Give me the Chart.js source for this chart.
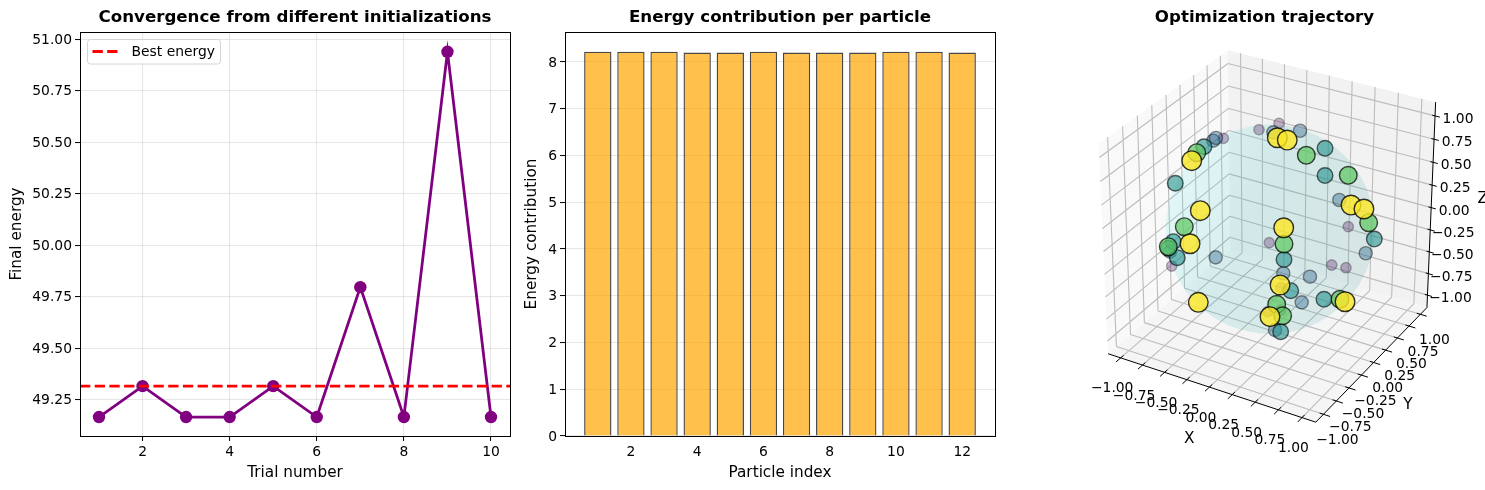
<!DOCTYPE html>
<html><head><meta charset="utf-8">
<style>html,body{margin:0;padding:0;background:#fff;width:1485px;height:490px;overflow:hidden}canvas{position:absolute;top:0}</style>
<script src="https://cdn.jsdelivr.net/npm/chart.js@4"></script>
</head><body>
<canvas id="c1" width="590" height="490" style="left:0"></canvas>
<canvas id="c2" width="520" height="490" style="left:520px"></canvas>
<canvas id="c3" width="441" height="490" style="left:1044px"></canvas>
<script>
// ---- panel 1
const trials = [1,2,3,4,5,6,7,8,9,10];
const finalEnergy = [49.166,49.316,49.166,49.166,49.316,49.166,49.797,49.166,50.94,49.166];
const bestEnergy = 49.316;
const trialTicks = [2,4,6,8,10];
const energyTicks = [49.25,49.5,49.75,50,50.25,50.5,50.75,51];
// ---- panel 2
const particles = [1,2,3,4,5,6,7,8,9,10,11,12];
const contribution = [8.22,8.22,8.22,8.2,8.2,8.22,8.2,8.2,8.2,8.22,8.22,8.2];
const particleTicks = [2,4,6,8,10,12];
const contributionTicks = [0,1,2,3,4,5,6,7,8];
// ---- panel 3: particle positions as seen in the view plane (unit sphere radius = 1);
// a flat picture does not give their depth, so [across, up] is what was read.
const step1 = [[.084,1.012],[-.107,.951],[-.448,.869],[.746,.024],[-.009,-.129],[-.941,-.352],[.588,-.342],[.724,-.368],[.103,-.559],[-.024,-.788],[.103,-.772]];
const step2 = [[-.544,.846],[-.518,.872],[-.958,-.215],[-.521,-.269],[.285,.941],[.03,.926],[.125,-.421],[.38,-.454],[.301,-.699],[.046,-.963],[.66,.279],[.913,-.23]];
const step3 = [[-.633,.788],[-.907,.439],[-.926,-.119],[-.972,-.184],[-.888,-.272],[.524,.773],[.524,.513],[.196,-.588],[.514,-.67],[.1,-.98],[.132,-.29],[.995,-.094]];
const step4 = [[-.702,.731],[.345,.706],[.746,.515],[-.821,.024],[.941,.062],[.132,-.141],[-.974,-.167],[.667,-.67],[.062,-.718],[.119,-.827]];
const step5 = [[-.75,.655],[.068,.874],[.163,.852],[-.668,.177],[-.766,-.139],[.129,.014],[.772,.231],[.896,.193],[.094,-.533],[-.687,-.699],[.715,-.693],[-.002,-.836]];
const axisTicks3d = [-1,-.75,-.5,-.25,0,.25,.5,.75,1];

const FONT = '"DejaVu Sans"';
const TICK = 13.89, LABEL = 15.28, TITLE = 16.67;
Chart.defaults.font.family = FONT;
Chart.defaults.color = '#000';
Chart.defaults.animation = false;

const frame = {id:'frame', afterDraw(c){const a=c.chartArea,x=c.ctx;x.save();x.strokeStyle='#000';x.lineWidth=1;
  x.strokeRect(Math.round(a.left)+.5,Math.round(a.top)+.5,Math.round(a.width),Math.round(a.height));x.restore();}};
const legendBox = {id:'legendBox', afterDraw(c){const a=c.chartArea,x=c.ctx;x.save();
  const l=a.left+7.5,t=a.top+7.5;x.fillStyle='rgba(255,255,255,.8)';x.strokeStyle='#d4d4d4';x.lineWidth=1;
  x.beginPath();x.roundRect(l,t,133,24.5,3);x.fill();x.stroke();
  x.strokeStyle='#f00';x.lineWidth=2.78;x.setLineDash([10.3,4.4]);x.beginPath();x.moveTo(l+5,t+12);x.lineTo(l+31,t+12);x.stroke();x.setLineDash([]);
  x.fillStyle='#000';x.font=TICK+'px '+FONT;x.textBaseline='middle';x.fillText(c.data.datasets[0].label,l+44,t+12.5);x.restore();}};

function axis(min,max,ticks,fmt,title,size,titlePad,grid,shift){return {type:'linear',min,max,
  afterBuildTicks(s){s.ticks=ticks.map(v=>({value:v}));},
  afterFit(s){if(s.isHorizontal())s.height=size;else s.width=size;},
  border:{color:'#000',width:1},
  grid:{display:grid,color:'rgba(176,176,176,.3)',lineWidth:1.1,tickColor:'#000',tickLength:5,tickWidth:1,drawTicks:true},
  ticks:{autoSkip:false,maxRotation:0,padding:3,labelOffset:shift||0,font:{size:TICK},color:'#000',callback:fmt},
  title:{display:true,text:title,font:{size:LABEL},color:'#000',padding:titlePad}};}
const titleOpt = t=>({display:true,fullSize:false,text:t,font:{size:TITLE,weight:'bold'},color:'#000',padding:{top:8,bottom:4}});

new Chart('c1',{type:'line',plugins:[frame,legendBox],
 data:{datasets:[
  {label:'Best energy',data:[{x:.564,y:bestEnergy},{x:10.436,y:bestEnergy}],borderColor:'#f00',borderWidth:2.78,borderDash:[10.3,4.4],pointRadius:0,order:1},
  {label:'Final energy',data:trials.map((t,i)=>({x:t,y:finalEnergy[i]})),borderColor:'#800080',backgroundColor:'#800080',borderWidth:2.78,pointRadius:6.2,pointBorderWidth:0,order:2,clip:false}]},
 options:{responsive:false,layout:{autoPadding:false,padding:{right:80}},
  plugins:{legend:{display:false},tooltip:{enabled:false},title:titleOpt('Convergence from different initializations')},
  scales:{x:axis(.564,10.436,trialTicks,v=>String(v),'Trial number',54,{top:0,bottom:7.5},true),
          y:axis(49.074,51.036,energyTicks,v=>v.toFixed(2),'Final energy',80,{top:8,bottom:0},true,1)}}});

new Chart('c2',{type:'bar',plugins:[frame],
 data:{datasets:[{label:'Energy contribution',data:particles.map((p,i)=>({x:p,y:contribution[i]})),
   backgroundColor:'rgba(255,165,0,.7)',borderColor:'rgba(0,0,0,.72)',borderWidth:1.4,barPercentage:.825,categoryPercentage:1}]},
 options:{responsive:false,layout:{autoPadding:false,padding:{right:45}},
  plugins:{legend:{display:false},tooltip:{enabled:false},title:titleOpt('Energy contribution per particle')},
  scales:{x:Object.assign(axis(.01,12.99,particleTicks,v=>String(v),'Particle index',54,{top:0,bottom:7.5},false),{offset:false}),
          y:axis(0,8.64,contributionTicks,v=>String(v),'Energy contribution',45,{top:3,bottom:0},true,1)}}});

// ---- mplot3d-style camera: elev 30, azim -60, distance 10, cube of half size .55
const L = 1.1458, K = .55/L, DIST = 10;
const U=[.866025,.5,0], V=[-.25,.433013,.866025], W=[.433013,-.75,.5];
const dot=(m,p)=>m[0]*p[0]+m[1]*p[1]+m[2]*p[2];
function project(x,y,z){const q=[x*K,y*K,z*K],d=DIST-dot(W,q),n=DIST/K/d;return {x:dot(U,q)*n,y:dot(V,q)*n};}
const BREAK={x:NaN,y:NaN};
function seg(list){const o=[];list.forEach(s=>{o.push(project(...s[0]),project(...s[1]),BREAK);});return o;}
const poly=c=>c.map(p=>project(...p));

const gridSegs=[];
axisTicks3d.forEach(t=>{
  gridSegs.push([[t,-L,-L],[t,L,-L]],[[t,L,-L],[t,L,L]]);
  gridSegs.push([[-L,t,-L],[L,t,-L]],[[-L,t,-L],[-L,t,L]]);
  gridSegs.push([[-L,-L,t],[-L,L,t]],[[-L,L,t],[L,L,t]]);
});
const tickSegs=[];
axisTicks3d.forEach(t=>{
  tickSegs.push([[t,-L+.05,-L],[t,-L-.08,-L]]);
  tickSegs.push([[L-.04,t,-L],[L+.07,t,-L]]);
  tickSegs.push([[L-.03,L,t],[L+.05,L,t]]);
});
const circle=[];for(let i=0;i<=120;i++){const r=i/120*2*Math.PI;circle.push({x:Math.cos(r),y:Math.sin(r)});}
const toPts=a=>a.map(p=>({x:p[0],y:p[1]}));
const line=(data,color,w)=>({data,borderColor:color,borderWidth:w,pointRadius:0,showLine:true,fill:false,spanGaps:false,clip:false});
const pane=(data,color)=>({data,borderWidth:0,borderColor:'transparent',backgroundColor:color,pointRadius:0,showLine:true,fill:'shape',clip:false});
const cloud=(a,rgb,alpha,r)=>({data:toPts(a),showLine:false,pointRadius:r,pointBorderWidth:1.39,
  pointBackgroundColor:`rgba(${rgb},${alpha})`,pointBorderColor:`rgba(0,0,0,${alpha})`,clip:false});
const sphereFill=ctx=>{const c=ctx.chart,a=c.chartArea;if(!a)return 'rgba(33,180,180,.15)';
  const X=c.scales.x,Y=c.scales.y,g=c.ctx.createLinearGradient(X.getPixelForValue(-1),Y.getPixelForValue(.3),X.getPixelForValue(.9),Y.getPixelForValue(-.6));
  g.addColorStop(0,'rgba(90,235,235,.15)');g.addColorStop(.4,'rgba(33,180,180,.15)');g.addColorStop(1,'rgba(62,150,150,.15)');return g;};

const drawList=[
 pane(poly([[-L,-L,-L],[L,-L,-L],[L,L,-L],[-L,L,-L]]),'#f5f5f5'),
 pane(poly([[-L,-L,-L],[-L,L,-L],[-L,L,L],[-L,-L,L]]),'#f9f9f9'),
 pane(poly([[-L,L,-L],[L,L,-L],[L,L,L],[-L,L,L]]),'#f2f2f2'),
 line(seg(gridSegs),'#bcbcbc',1.1),
 line(seg([[[-L,-L,-L],[L,-L,-L]],[[L,-L,-L],[L,L,-L]],[[L,L,-L],[L,L,L]]]),'#000',1),
 line(seg(tickSegs),'#000',1),
 pane(circle,sphereFill),
 cloud(step1,'68,1,84',.28,5.2),
 cloud(step2,'49,104,142',.42,6.6),
 cloud(step3,'33,145,140',.6,7.8),
 cloud(step4,'94,201,98',.72,8.8),
 cloud(step5,'253,231,37',.8,9.8)
].reverse();

const labels3d={id:'labels3d',afterDraw(c){const x=c.ctx,X=c.scales.x,Y=c.scales.y;
  const px=p=>[X.getPixelForValue(p.x),Y.getPixelForValue(p.y)];
  const fmt=t=>(t<0?'\u2212':'')+Math.abs(t).toFixed(2);
  x.save();x.fillStyle='#000';x.textAlign='center';x.textBaseline='middle';x.font=TICK+'px '+FONT;
  axisTicks3d.forEach(t=>{
    let p=px(project(t,-L,-L));x.fillText(fmt(t),p[0]-8.5,p[1]+31);
    p=px(project(L,t,-L));x.fillText(fmt(t),p[0]+14,p[1]+26);
    p=px(project(L,L,t));x.fillText(fmt(t),p[0]+23,p[1]+3.5);
  });
  x.font=LABEL+'px '+FONT;
  x.fillText('X',1189.3-1044,439);x.fillText('Y',1408-1044,405);x.fillText('Z',1482.7-1044,199);
  x.restore();}};

new Chart('c3',{type:'scatter',plugins:[labels3d],
 data:{datasets:drawList},
 options:{responsive:false,layout:{autoPadding:false},
  plugins:{legend:{display:false},tooltip:{enabled:false},title:titleOpt('Optimization trajectory')},
  scales:{x:{type:'linear',display:false,min:-2.1617,max:2.0527},y:{type:'linear',display:false,min:-2.4924,max:1.8846}}}});
</script></body></html>
